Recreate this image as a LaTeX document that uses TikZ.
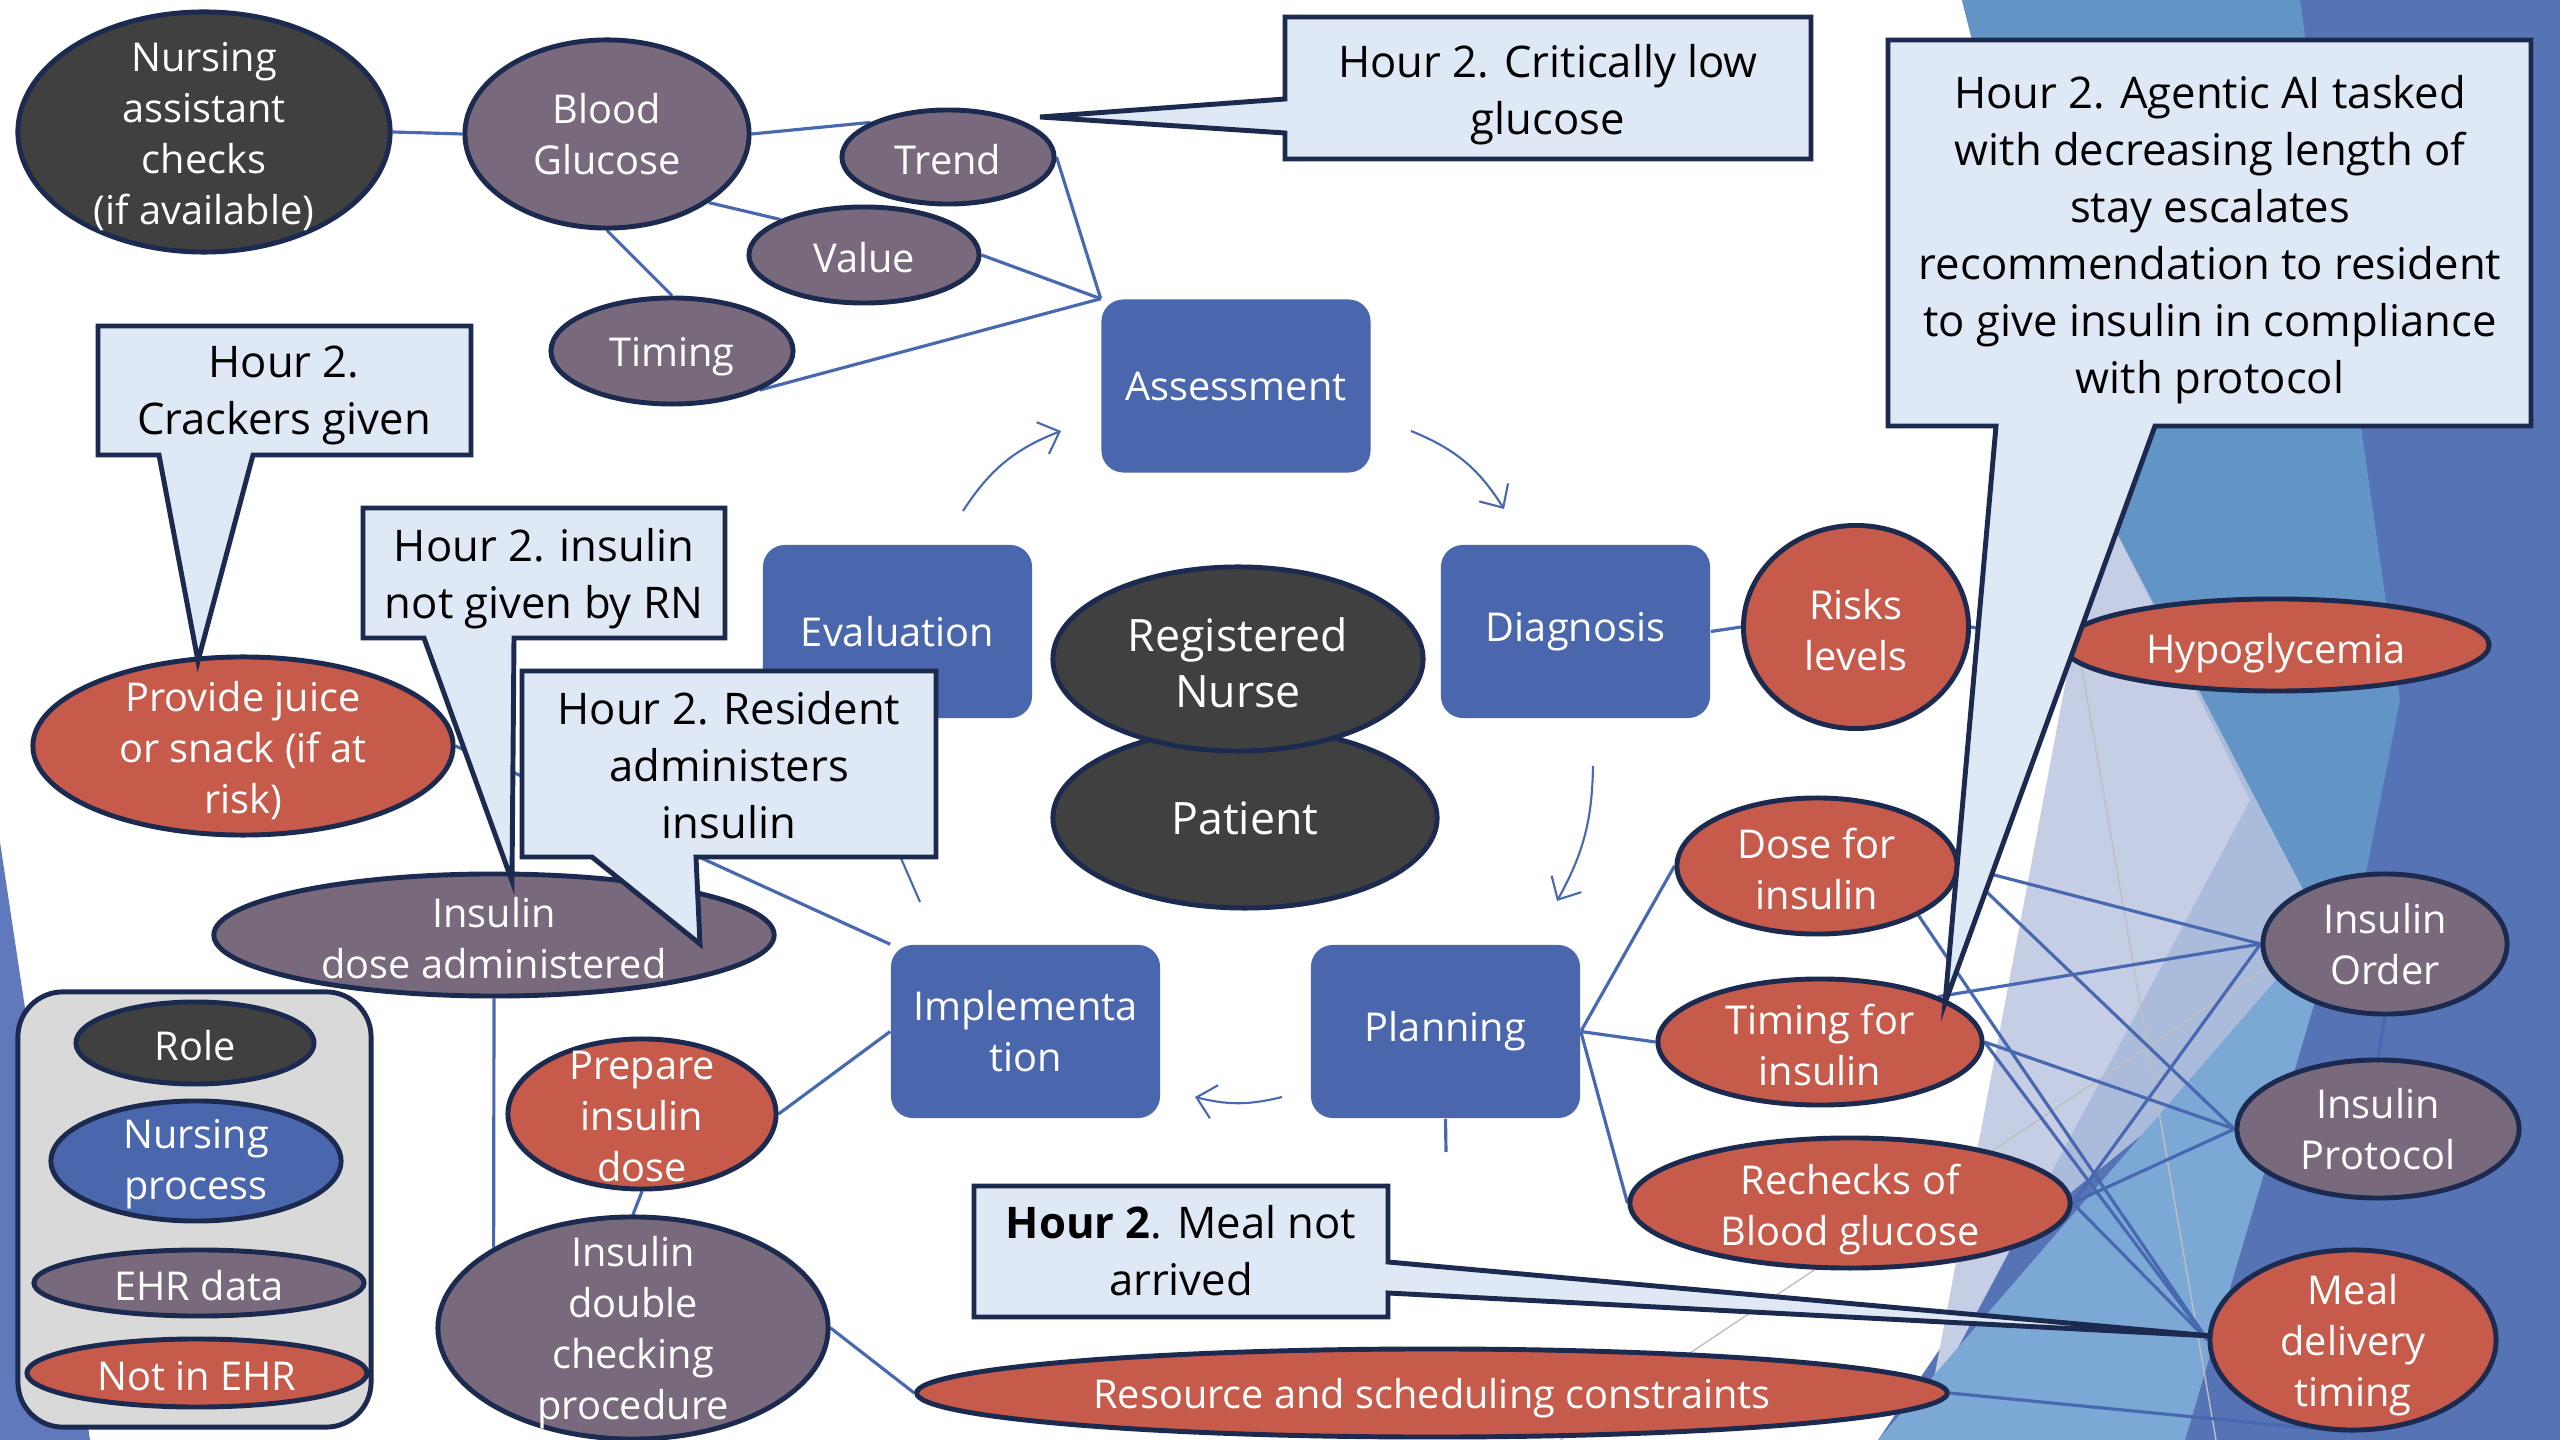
\documentclass[tikz,border=0pt]{standalone}
\usepackage{fontspec}
\setmainfont{Open Sans}
\usetikzlibrary{shapes.geometric,arrows.meta}
\pgfdeclarelayer{bg}
\pgfdeclarelayer{wires}
\pgfsetlayers{bg,wires,main}

\definecolor{roleC}{HTML}{404040}
\definecolor{procC}{HTML}{4A66AC}
\definecolor{ehrC}{HTML}{786A7C}
\definecolor{notC}{HTML}{C65A4B}
\definecolor{edgeC}{HTML}{1B2A4E}
\definecolor{lineC}{HTML}{4868B0}
\definecolor{callC}{HTML}{DFE9F5}
\definecolor{legC}{HTML}{D9D9D9}
\definecolor{facetBase}{HTML}{5673B6}
\definecolor{facetMid}{HTML}{6394C6}
\definecolor{facetLav}{HTML}{C5CEE5}
\definecolor{facetHaze}{HTML}{ABBBDC}
\definecolor{facetSky}{HTML}{7CA8D6}
\definecolor{facetLeft}{HTML}{6079BC}

\newcommand\nodefnt{\fontsize{11.3}{14.5}\selectfont}
\newcommand\bignodefnt{\fontsize{12.7}{15.8}\selectfont}
\newcommand\callfnt{\fontsize{12.4}{16.2}\selectfont}

\tikzset{
  ellbase/.style={ellipse, draw=edgeC, line width=1.4pt, inner sep=0pt},
  ntext/.style={text=white, align=center, font=\nodefnt, inner sep=0pt},
  procbox/.style={rectangle, rounded corners=0.22cm, fill=procC, text=white,
    align=center, font=\nodefnt, inner sep=0pt,
    minimum width=2.69cm, minimum height=1.73cm},
  wire/.style={draw=lineC, line width=0.9pt},
  cyc/.style={draw=lineC, line width=0.6pt,
    -{Straight Barb[length=1.8mm,width=3.4mm]}},
  callout/.style={fill=callC, draw=edgeC, line width=1.4pt, line join=miter},
  ctext/.style={align=center, font=\callfnt, inner sep=0pt, text=black},
}

% ellipse node with its white text:
% [text drop in pt] name, colour, x, y, width, height, text
\newcommand\EllNode[8][0.85]{%
  \node[ellbase, fill=#3, minimum width=#6cm, minimum height=#7cm] (#2) at (#4,#5) {};
  \node[ntext, yshift=-#1pt] (#2t) at (#2.center) {#8};}

\begin{document}
\begin{tikzpicture}[x=0.01cm, y=-0.01cm]
\useasboundingbox (0,0) rectangle (2560,1440);

% ---- decorative facets ----
\begin{pgfonlayer}{bg}
  \fill[white] (0,0) rectangle (2560,1440);
  \fill[facetBase] (1962,0) -- (2560,0) -- (2560,1440) -- (1878,1440)
      -- (1967,1309) -- (2139,700) -- cycle;
  \fill[facetMid] (1962,0) -- (2300,0) -- (2400,700) -- (2345,980) -- (2139,700) -- cycle;
  \fill[facetHaze] (2110,520) -- (2345,970) -- (2000,1250) -- cycle;
  \fill[facetLav] (2100,500) -- (2250,800) -- (1930,1400) -- cycle;
  \fill[facetSky] (2345,900) -- (2185,1440) -- (1878,1440) -- cycle;
  \fill[facetLeft] (0,842) -- (90,1440) -- (0,1440) -- cycle;
  \draw[black!25, line width=0.4pt] (1560,1440) -- (2300,945);
  \draw[black!25, line width=0.4pt] (2070,600) -- (2216,1440);
\end{pgfonlayer}

% ---- legend ----
\node[draw=edgeC, fill=legC, line width=1.4pt, rounded corners=0.45cm,
      minimum width=3.53cm, minimum height=4.35cm, inner sep=0pt] (legend) at (194.5,1209.5) {};
\EllNode{lrole}{roleC}{195}{1043}{2.38}{0.82}{Role}
\EllNode{lproc}{procC}{196}{1161}{2.90}{1.20}{Nursing\\process}
\EllNode{lehr}{ehrC}{199}{1283}{3.30}{0.66}{EHR data}
\EllNode{lnot}{notC}{197}{1373}{3.40}{0.68}{Not in EHR}

% ---- nursing process steps ----
\node[procbox] (as) at (1236,386) {Assessment};
\node[procbox] (di) at (1575.5,631.5) {\raisebox{-0.9pt}{Diagnosis}};
\node[procbox] (ev) at (897.5,631.5) {Evaluation};
\node[procbox] (im) at (1025.5,1031.5) {Implementa\\tion};
\node[procbox] (pl) at (1445.5,1031.5) {Planning};

% ---- roles ----
\node[ellbase, fill=roleC, minimum width=3.84cm, minimum height=1.80cm] (pa) at (1245,818) {};
\node[ntext, font=\bignodefnt] (pat) at (pa.center) {Patient};
\node[ellbase, fill=roleC, minimum width=3.70cm, minimum height=1.84cm] (rn) at (1238,659) {};
\node[ntext, font=\bignodefnt, yshift=-1pt] (rnt) at (rn.center) {Registered\\Nurse};
\EllNode[1.4]{na}{roleC}{204}{132}{3.72}{2.40}{Nursing\\assistant\\checks\\(if available)}

% ---- EHR data ----
\EllNode[0]{bg}{ehrC}{607}{134}{2.84}{1.88}{Blood\\Glucose}
\EllNode{tr}{ehrC}{948}{157}{2.12}{0.94}{Trend}
\EllNode{va}{ehrC}{864}{255}{2.30}{0.96}{Value}
\EllNode[1.6]{ti}{ehrC}{672}{351}{2.42}{1.06}{Timing}
\EllNode[0]{io}{ehrC}{2385}{944}{2.44}{1.40}{Insulin\\Order}
\EllNode[0]{ip}{ehrC}{2378}{1129}{2.82}{1.38}{Insulin\\Protocol}
\EllNode{id}{ehrC}{494}{935}{5.60}{1.22}{Insulin\\dose administered}
\EllNode[1.4]{dc}{ehrC}{633}{1328}{3.90}{2.22}{Insulin\\double\\checking\\procedure}

% ---- not in EHR ----
\EllNode{rl}{notC}{1856}{627}{2.25}{2.03}{Risks\\levels}
\EllNode[2.3]{hy}{notC}{2276}{645}{4.26}{0.92}{Hypoglycemia}
\EllNode{do}{notC}{1817}{866}{2.80}{1.36}{Dose for\\insulin}
\EllNode{tf}{notC}{1820}{1042}{3.24}{1.26}{Timing for\\insulin}
\EllNode[1.85]{re}{notC}{1850}{1203}{4.40}{1.30}{Rechecks of\\Blood glucose}
\EllNode[1.4]{md}{notC}{2353}{1340}{2.86}{1.80}{Meal\\delivery\\timing}
\EllNode[1.4]{rs}{notC}{1432}{1393}{10.30}{0.88}{Resource and scheduling constraints}
\EllNode[1.4]{pj}{notC}{243}{746}{4.20}{1.78}{Provide juice\\or snack (if at\\risk)}
\EllNode{pr}{notC}{642}{1114}{2.68}{1.50}{Prepare\\insulin\\dose}

% ---- connectors ----
\coordinate (c1s) at (963,511);   \coordinate (c1e) at (1061,431);
\coordinate (c2s) at (1411,431);  \coordinate (c2e) at (1504,509);
\coordinate (c3s) at (1593,766);  \coordinate (c3e) at (1557,901);
\coordinate (c4s) at (1282,1097); \coordinate (c4e) at (1195,1097);
\coordinate (c5s) at (920,902);   \coordinate (c5e) at (900,856);
\coordinate (plstub) at (1446,1152);

\begin{pgfonlayer}{wires}
  \draw[wire] (na.east) -- (bg.west);
  \draw[wire] (bg.east) -- (tr.156);
  \draw[wire] (bg.-34) -- (va.157);
  \draw[wire] (bg.south) -- (ti.north);
  \draw[wire] (tr.east) -- (as.north west);
  \draw[wire] (va.east) -- (as.north west);
  \draw[wire] (ti.-24) -- (as.north west);
  \draw[wire] (di.east) -- (rl.west);
  \draw[wire] (rl.east) -- (hy.west);
  \draw[wire] (pl.east) -- (do.west);
  \draw[wire] (pl.east) -- (tf.west);
  \draw[wire] (pl.east) -- (re.west);
  \draw[wire] (pl.south) -- (plstub);
  \draw[wire] (im.west) -- (pr.east);
  \draw[wire] (pj.east) -- (im.north west);
  \draw[wire] (id.south) -- (dc.150);
  \draw[wire] (pr.south) -- (dc.north);
  \draw[wire] (dc.east) -- (rs.west);
  \draw[wire] (rs.east) -- (md.south);
  \draw[wire] (io.south) -- (ip.north);
  \draw[wire] (do.east) -- (io.west);
  \draw[wire] (do.east) -- (ip.west);
  \draw[wire] (do.-26) -- (md.west);
  \draw[wire] (tf.21) -- (io.west);
  \draw[wire] (tf.east) -- (ip.west);
  \draw[wire] (tf.east) -- (md.west);
  \draw[wire] (re.east) -- (io.west);
  \draw[wire] (re.east) -- (ip.west);
  \draw[wire] (re.east) -- (md.west);
  % process cycle
  \draw[cyc] (c1s) to[bend left=18] (c1e);
  \draw[cyc] (c2s) to[bend left=18] (c2e);
  \draw[cyc] (c3s) to[bend left=14] (c3e);
  \draw[cyc] (c4s) to[bend left=14] (c4e);
  \draw[draw=lineC, line width=0.6pt] (c5s) -- (c5e);
\end{pgfonlayer}

% ---- callouts ----
\draw[callout] (1285,17) -- (1811,17) -- (1811,159) -- (1285,159) -- (1285,133)
   -- (1040,117) -- (1285,99) -- cycle;
\node[ctext, yshift=-1.85pt] (crit) at (1548,88) {Hour 2. Critically low\\glucose};

\draw[callout] (1888,40) -- (2531,40) -- (2531,426) -- (2155,426) -- (1945,1003)
   -- (1996,426) -- (1888,426) -- cycle;
\node[ctext, yshift=-1.15pt] (agent) at (2210,236) {Hour 2. Agentic AI tasked\\with decreasing length of\\stay escalates\\recommendation to resident\\to give insulin in compliance\\with protocol};

\draw[callout] (98,326) -- (471,326) -- (471,455) -- (253,455) -- (198,661)
   -- (159,455) -- (98,455) -- cycle;
\node[ctext, yshift=-1.4pt] (crack) at (284,391) {Hour 2.\\Crackers given};

\draw[callout] (363,508) -- (725,508) -- (725,638) -- (514,638) -- (512,881)
   -- (424,638) -- (363,638) -- cycle;
\node[ctext, yshift=-1.4pt] (notrn) at (544,574) {Hour 2. insulin\\not given by RN};

\draw[callout] (522,671) -- (936,671) -- (936,857) -- (696,857) -- (700,944)
   -- (592,857) -- (522,857) -- cycle;
\node[ctext] (resid) at (729,765) {Hour 2. Resident\\administers\\insulin};

\draw[callout] (974,1186) -- (1388,1186) -- (1388,1262) -- (2212,1336)
   -- (1388,1293) -- (1388,1317) -- (974,1317) -- cycle;
\node[ctext] (meal) at (1181,1251) {\textbf{Hour 2}. Meal not\\arrived};

\end{tikzpicture}
\end{document}
